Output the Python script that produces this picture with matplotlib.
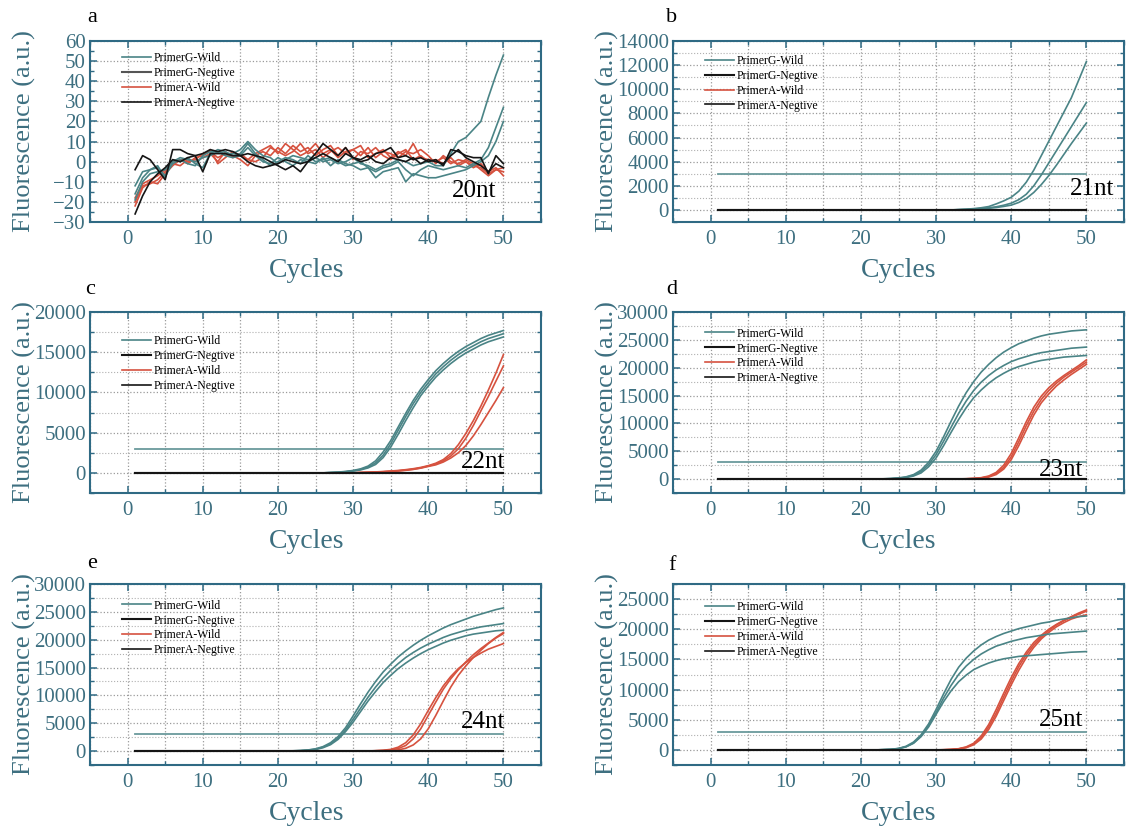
import matplotlib.pyplot as plt
import numpy as np
from matplotlib.lines import Line2D
from matplotlib.ticker import MultipleLocator

plt.rcParams['font.family'] = ['Liberation Serif', 'DejaVu Serif']

cycles = np.arange(1, 51)
threshold = 3000


def tail(vals):
    # curves sit on the baseline (0) until they start to rise
    return [0] * (50 - len(vals)) + vals


# ---- 20nt: raw noisy traces ----
a_g_wild = [
    [-12, -5, -4, -3, -7, -1, 1, -1, -2, 3, 5, 5, 4, 4, 6, 10, 6, 3, 2, -1, 1, 3, 2, 1, 2,
     0, 1, -1, 0, 2, -1, -2, -4, -2, -1, 1, 0, -2, -1, 0, -2, -2, 4, 10, 12, 16, 20, 32, 43, 53],
    [-16, -8, -4, -2, -8, 1, 0, 2, -1, -3, 4, 6, 5, 3, 4, 9, 4, 1, -2, 0, 2, 1, -1, 3, 0,
     1, 2, 0, -2, -1, 0, -3, -5, -3, -2, 0, -4, -7, -4, -2, -3, -4, -3, -2, -3, -1, 1, 7, 17, 27],
    [-19, -10, -6, -5, -4, 0, 2, 1, 0, 2, 3, 5, 3, 2, 3, 7, 3, 0, -1, 2, 0, -2, 1, 0, -1,
     2, -2, 1, -1, -2, -4, -3, -8, -5, -4, -3, -10, -6, -7, -8, -8, -7, -6, -5, -4, -2, 0, 3, 10, 20],
]
a_a_wild = [
    [-20, -12, -11, -9, -5, 0, 1, -1, 2, 3, 6, -1, 2, 5, 3, 1, 4, 6, 8, 4, 9, 6, 3, 5, 9,
     4, 6, 2, 5, 6, 8, 2, 4, 6, 2, 5, 3, 9, 2, 1, 0, 2, -1, 1, 0, -2, -3, -6, -4, -5],
    [-22, -13, -10, -11, -6, -2, 1, 0, 1, 4, 5, 2, 4, 3, 1, -2, 3, 5, 3, 7, 4, 8, 5, 7, 3,
     6, 8, 3, 7, 1, 5, 4, 7, 3, 1, 4, 6, 1, 3, 0, 1, -1, 2, -2, 0, -3, -1, -5, -3, -7],
    [-18, -11, -9, -7, -4, -1, -2, 1, 0, 2, 4, 0, 5, 2, 4, 1, 0, 2, 7, 5, 3, 5, 9, 4, 6,
     2, 5, 7, 4, 6, 3, 7, 2, 5, 4, 2, 5, 4, 6, 3, -1, 3, 0, -1, 1, -1, -4, -7, -4, -3],
]
a_neg = [
    [-4, 3, 1, -4, -9, 6, 6, 4, 3, -5, 4, 4, 4, 3, 3, 0, -2, -3, -2, -1, 1, 0, -1, 0, 2,
     4, 2, 0, 4, 2, 0, 1, 4, 5, 7, 2, 3, 1, 2, 0, 1, -2, 6, 5, 3, 2, 2, -6, 3, -1],
    [-26, -17, -10, -6, -3, 1, 0, 2, 3, 4, 6, 5, 6, 5, 3, 4, 3, 2, 0, -2, -4, -2, -5, 0, 4,
     9, 6, 3, 7, 2, 1, 3, 0, -1, 2, 1, 0, 2, -1, 1, 0, -1, 3, 6, 2, 0, -2, -5, -1, -3],
]

# ---- 21nt ----
b_g_wild = [
    tail([30, 60, 110, 180, 280, 500, 750, 1050, 1550, 2300, 3300, 4500, 5700, 6900, 8100,
          9300, 10800, 12300]),
    tail([20, 40, 70, 120, 180, 260, 390, 560, 850, 1300, 2000, 2900, 3900, 4900, 5900,
          6900, 7900, 8900]),
    tail([15, 30, 55, 90, 140, 200, 290, 400, 620, 950, 1450, 2100, 2850, 3700, 4600,
          5500, 6350, 7200]),
]
b_a_wild = [tail([]), tail([]), tail([])]

# ---- 22nt ----
c_g_wild = [
    tail([50, 100, 180, 300, 500, 850, 1500, 2600, 4000, 5700, 7400, 9000, 10400, 11600,
          12700, 13600, 14400, 15100, 15700, 16200, 16700, 17100, 17400, 17700]),
    tail([40, 80, 150, 260, 430, 720, 1250, 2200, 3600, 5300, 7000, 8600, 10000, 11200,
          12300, 13200, 14000, 14700, 15300, 15800, 16300, 16700, 17000, 17300]),
    tail([30, 60, 120, 220, 370, 620, 1050, 1900, 3200, 4800, 6500, 8100, 9600, 10800,
          11900, 12800, 13600, 14300, 14900, 15400, 15900, 16300, 16600, 16900]),
]
c_a_wild = [
    tail([50, 80, 120, 170, 230, 300, 400, 520, 680, 900, 1200, 1650, 2400, 3500, 4900,
          6500, 8300, 10300, 12400, 14700]),
    tail([40, 70, 100, 140, 190, 260, 350, 460, 620, 850, 1100, 1500, 2100, 3000, 4300,
          5900, 7700, 9500, 11400, 13300]),
    tail([40, 60, 90, 130, 180, 240, 320, 430, 590, 800, 1000, 1350, 1850, 2500, 3400,
          4600, 6000, 7500, 9000, 10600]),
]

# ---- 23nt ----
d_g_wild = [
    tail([50, 100, 200, 400, 800, 1600, 3000, 5000, 7600, 10400, 13100, 15500, 17500, 19200,
          20600, 21800, 22800, 23600, 24300, 24800, 25300, 25700, 26000, 26200, 26400, 26600,
          26700, 26800]),
    tail([40, 80, 170, 340, 680, 1350, 2600, 4400, 6800, 9300, 11800, 14000, 15900, 17400,
          18600, 19600, 20400, 21100, 21600, 22000, 22400, 22700, 22900, 23100, 23300, 23500,
          23600, 23700]),
    tail([30, 60, 130, 270, 550, 1100, 2200, 3800, 6000, 8400, 10700, 12800, 14600, 16000,
          17200, 18200, 19000, 19700, 20200, 20600, 21000, 21300, 21500, 21700, 21900, 22000,
          22100, 22200]),
]
d_a_wild = [
    tail([30, 60, 120, 250, 550, 1200, 2500, 4600, 7400, 10300, 12900, 14900, 16400, 17600,
          18600, 19500, 20400, 21400]),
    tail([25, 50, 100, 200, 450, 1000, 2100, 4000, 6700, 9600, 12200, 14300, 15900, 17200,
          18300, 19200, 20100, 21000]),
    tail([20, 40, 80, 160, 360, 820, 1800, 3500, 6000, 8800, 11500, 13700, 15300, 16700,
          17800, 18800, 19700, 20600]),
]

# ---- 24nt ----
e_g_wild = [
    tail([50, 100, 200, 400, 800, 1500, 2600, 4200, 6300, 8500, 10600, 12500, 14200, 15600,
          16900, 18000, 19000, 19900, 20700, 21400, 22100, 22700, 23200, 23700, 24200, 24600,
          25000, 25400, 25700]),
    tail([40, 80, 170, 340, 700, 1300, 2300, 3800, 5700, 7700, 9700, 11500, 13100, 14500,
          15700, 16800, 17700, 18500, 19200, 19800, 20400, 20900, 21300, 21700, 22000, 22300,
          22500, 22700, 22900]),
    tail([30, 60, 130, 280, 600, 1150, 2100, 3500, 5200, 7100, 9000, 10700, 12300, 13600,
          14800, 15800, 16700, 17500, 18200, 18800, 19400, 19900, 20300, 20700, 21000, 21200,
          21400, 21600, 21700]),
]
e_a_wild = [
    tail([80, 150, 300, 700, 1500, 2900, 4900, 7300, 9600, 11700, 13400, 14800, 15900, 16800,
          17600, 18300, 18800, 19300]),
    tail([50, 100, 200, 450, 1000, 2200, 4000, 6400, 8800, 11100, 13000, 14600, 16000, 17300,
          18400, 19400, 20400, 21300]),
    tail([30, 50, 100, 220, 500, 1100, 2200, 4000, 6400, 9000, 11500, 13600, 15300, 16800,
          18100, 19300, 20300, 21100]),
]

# ---- 25nt ----
f_g_wild = [
    tail([50, 100, 250, 600, 1300, 2500, 4300, 6700, 9300, 11700, 13700, 15200, 16400, 17400,
          18200, 18800, 19300, 19700, 20100, 20400, 20700, 21000, 21200, 21500, 21700, 21900,
          22100, 22200]),
    tail([40, 90, 220, 530, 1150, 2300, 4000, 6200, 8600, 10700, 12500, 13900, 15000, 15900,
          16600, 17200, 17600, 18000, 18300, 18600, 18800, 19000, 19200, 19300, 19400, 19500,
          19600, 19700]),
    tail([40, 90, 210, 500, 1100, 2200, 3800, 5900, 8000, 9800, 11300, 12400, 13300, 13900,
          14400, 14800, 15100, 15300, 15500, 15600, 15700, 15800, 15900, 16000, 16100, 16200,
          16250, 16300]),
]
f_a_wild = [
    tail([30, 80, 200, 500, 1100, 2300, 4200, 6700, 9400, 12000, 14300, 16200, 17800, 19000,
          20000, 20800, 21500, 22100, 22700, 23200]),
    tail([25, 70, 170, 420, 950, 2000, 3800, 6100, 8800, 11400, 13800, 15800, 17400, 18700,
          19800, 20700, 21400, 22000, 22500, 23000]),
    tail([20, 60, 150, 370, 850, 1800, 3400, 5600, 8200, 10800, 13200, 15300, 17000, 18400,
          19500, 20400, 21100, 21700, 22100, 22400]),
]
neg_flat = [tail([]), tail([])]

panel_letters = ['a', 'b', 'c', 'd', 'e', 'f']
panel_tags = ['20nt', '21nt', '22nt', '23nt', '24nt', '25nt']
legend_labels = ['PrimerG-Wild', 'PrimerG-Negtive', 'PrimerA-Wild', 'PrimerA-Negtive']
y_limits = [(-30, 60), (-1000, 14000), (-2500, 20000), (-2500, 30000), (-2500, 30000), (-2500, 27500)]
y_major = [10, 2000, 5000, 5000, 5000, 5000]

g_sets = [a_g_wild, b_g_wild, c_g_wild, d_g_wild, e_g_wild, f_g_wild]
a_sets = [a_a_wild, b_a_wild, c_a_wild, d_a_wild, e_a_wild, f_a_wild]
n_sets = [a_neg, neg_flat, neg_flat, neg_flat, neg_flat, neg_flat]

# styling
TEAL = '#4a8486'
RED = '#d6523f'
BLACK = '#151515'
SPINE = '#2f6a84'
LABEL = '#3d6f80'
W, H = 1126, 832
col_left = [90, 673]
row_top = [41, 312, 584]
ax_w, ax_h = 451, 181
tag_pos = [(0.90, 0.17), (0.978, 0.18), (0.92, 0.17), (0.91, 0.125), (0.92, 0.24), (0.91, 0.25)]
leg_top = [0.965, 0.95, 0.90, 0.94, 0.94, 0.93]
letter_pos = [(92, 17), (672, 18), (90, 290), (672, 289), (92, 563), (672, 565)]

fig = plt.figure(figsize=(W / 100, H / 100), dpi=100)

for i in range(6):
    r, c = divmod(i, 2)
    ax = fig.add_axes([col_left[c] / W, 1 - (row_top[r] + ax_h) / H, ax_w / W, ax_h / H])

    if i > 0:
        ax.plot([cycles[0], cycles[-1]], [threshold, threshold], color='#6a9a9c', lw=1.3, zorder=2)
    for ys in a_sets[i]:
        ax.plot(cycles, ys, color=RED, lw=1.2, zorder=3)
    for ys in g_sets[i]:
        ax.plot(cycles, ys, color=TEAL, lw=1.2, zorder=3)
    for ys in n_sets[i]:
        ax.plot(cycles, ys, color=BLACK, lw=1.5 if i > 0 else 1.2, zorder=4)

    ax.set_xlim(-5, 55)
    ax.set_ylim(*y_limits[i])
    ax.xaxis.set_major_locator(MultipleLocator(10))
    ax.xaxis.set_minor_locator(MultipleLocator(5))
    ax.yaxis.set_major_locator(MultipleLocator(y_major[i]))
    ax.yaxis.set_minor_locator(MultipleLocator(y_major[i] / 2))

    ax.grid(which='major', color='#9a9a9a', ls=':', lw=0.9)
    ax.grid(which='minor', axis='x', color='#9a9a9a', ls=':', lw=0.9)
    if i > 0:
        ax.grid(which='minor', axis='y', color='#b0b0b0', ls=':', lw=0.8)
    ax.set_axisbelow(True)

    for s in ax.spines.values():
        s.set_color(SPINE)
        s.set_linewidth(1.5)
    ax.tick_params(which='both', direction='in', top=True, right=True, color=SPINE,
                   labelcolor=LABEL, labelsize=15)
    ax.tick_params(which='major', length=5, width=1.1)
    ax.tick_params(which='minor', length=3, width=1.0)
    ax.tick_params(axis='y', pad=3)
    ax.tick_params(axis='x', pad=6)

    ax.set_ylabel('Fluorescence (a.u.)', fontsize=19, color=LABEL)
    ax.yaxis.set_label_coords(-0.12, 0.5)
    ax.set_xlabel('Cycles', fontsize=20, color=LABEL)
    ax.xaxis.set_label_coords(0.48 if c == 0 else 0.5, -0.2)

    ax.text(tag_pos[i][0], tag_pos[i][1], panel_tags[i], transform=ax.transAxes,
            ha='right', va='center', fontsize=18, color='black')

    neg_col = '#555555' if i == 0 else BLACK
    handles = [Line2D([], [], color=TEAL, lw=1.2),
               Line2D([], [], color=neg_col, lw=1.5),
               Line2D([], [], color=RED, lw=1.2),
               Line2D([], [], color=BLACK, lw=1.2)]
    ax.legend(handles, legend_labels, loc='upper left', bbox_to_anchor=(0.06, leg_top[i]),
              frameon=False, fontsize=8.5, handlelength=2.5, handletextpad=0.2,
              labelspacing=0.25, borderaxespad=0)

    lx, ly = letter_pos[i]
    fig.text(lx / W, 1 - ly / H, panel_letters[i], ha='center', va='center', fontsize=16)

fig.savefig('out.png', dpi=100)
